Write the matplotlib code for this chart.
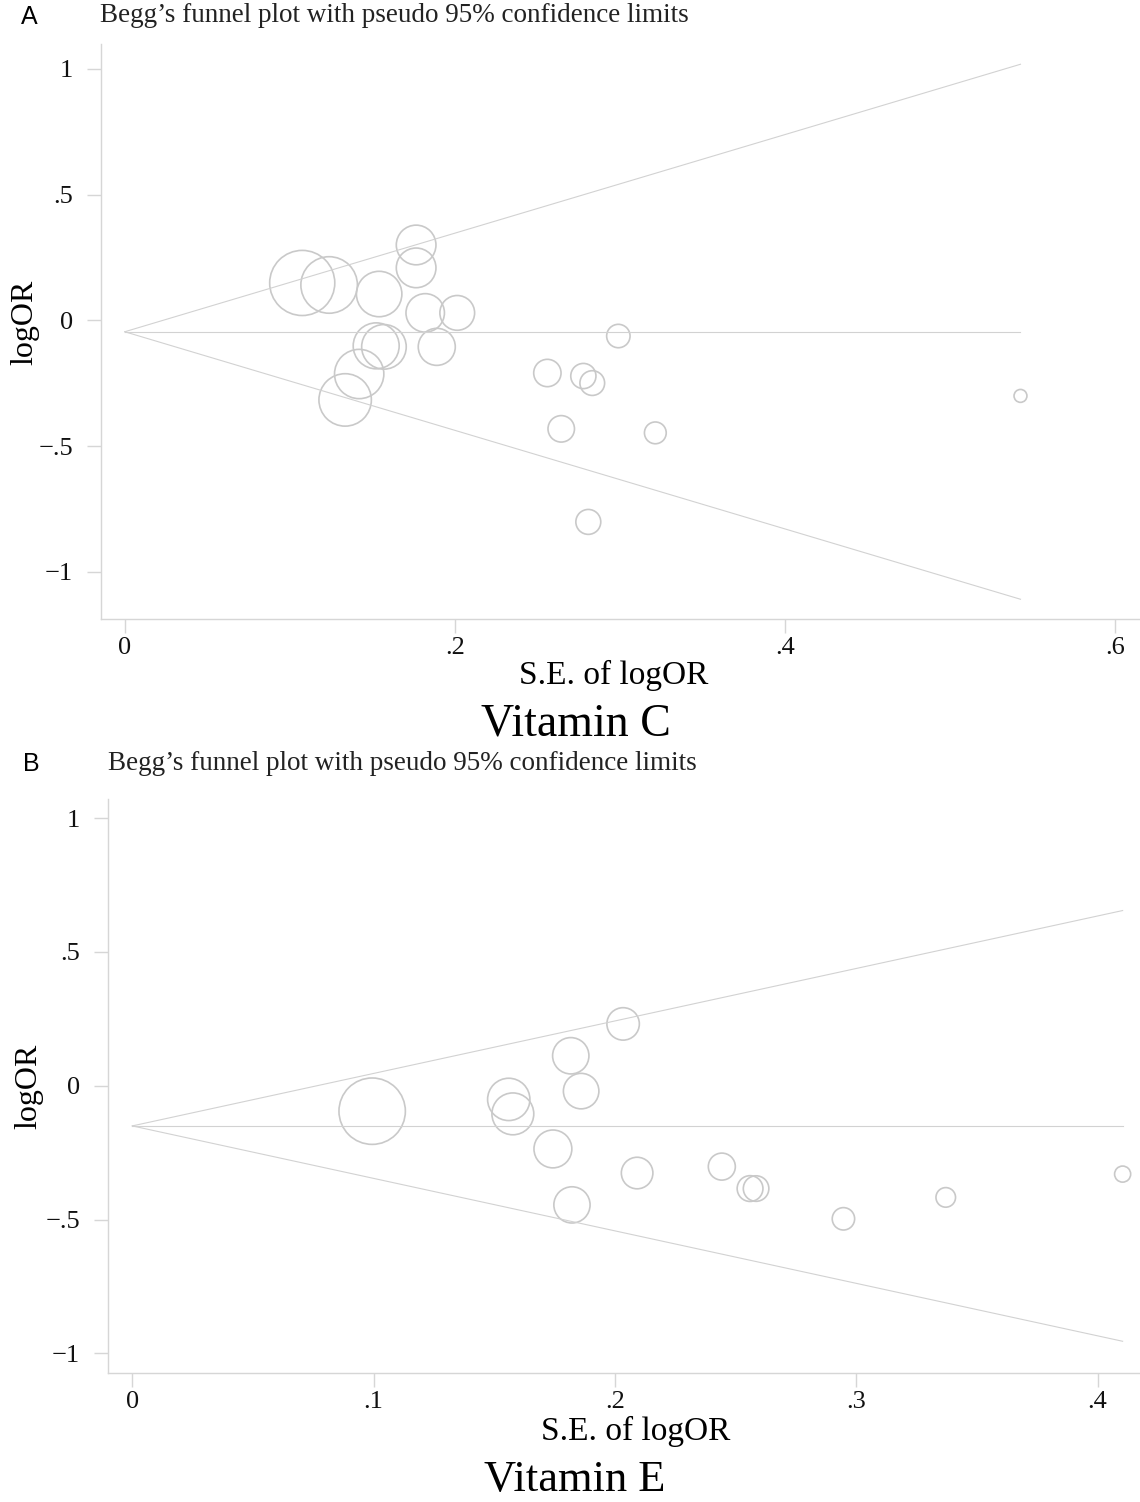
import matplotlib
matplotlib.use('Agg')
import matplotlib.pyplot as plt
import numpy as np

# Vitamin C study estimates
se_c = [0.1075, 0.1238, 0.1541, 0.1765, 0.1765, 0.1820, 0.2014, 0.1890, 0.1523, 0.1570,
        0.1420, 0.1335, 0.2990, 0.2560, 0.2778, 0.2832, 0.2644, 0.3214, 0.2808, 0.5426]
logor_c = [0.149, 0.141, 0.105, 0.300, 0.209, 0.030, 0.030, -0.105, -0.101, -0.105,
           -0.213, -0.316, -0.062, -0.209, -0.221, -0.249, -0.431, -0.447, -0.801, -0.300]
pooled_c = -0.045

# Vitamin E study estimates
se_e = [0.0994, 0.1560, 0.1577, 0.1817, 0.1860, 0.1743, 0.1822, 0.2034, 0.2092, 0.2443,
        0.2560, 0.2585, 0.2947, 0.3371, 0.4104]
logor_e = [-0.095, -0.051, -0.105, 0.112, -0.020, -0.236, -0.445, 0.231, -0.326, -0.302,
           -0.384, -0.384, -0.497, -0.417, -0.330]
pooled_e = -0.150

yticks = [-1, -0.5, 0, 0.5, 1]
ytick_labels = ['\u22121', '\u2212.5', '0', '.5', '1']
xticks_c = [0, 0.2, 0.4, 0.6]
xtick_labels_c = ['0', '.2', '.4', '.6']
xticks_e = [0, 0.1, 0.2, 0.3, 0.4]
xtick_labels_e = ['0', '.1', '.2', '.3', '.4']

plt.rcParams['font.family'] = ['Liberation Serif', 'DejaVu Serif']

W, H = 1140, 1502
fig = plt.figure(figsize=(W / 100, H / 100), dpi=100)

line_col = '#d2d2d2'
circ_col = '#c9c9c9'
tick_col = '#d6d6d6'


def funnel(ax, se, est, pooled, k, xticks, xlabels, xlim, ylim):
    se = np.asarray(se)
    est = np.asarray(est)
    smax = se.max()
    xs = np.array([0, smax])
    ax.plot(xs, pooled + 1.96 * xs, color=line_col, lw=0.8)
    ax.plot(xs, pooled - 1.96 * xs, color=line_col, lw=0.8)
    ax.plot(xs, [pooled, pooled], color=line_col, lw=0.8)
    # marker radius proportional to 1/se
    s = (1.44 * k / se) ** 2
    ax.scatter(se, est, s=s, facecolors='none', edgecolors=circ_col, linewidths=1.2)
    ax.set_xlim(*xlim)
    ax.set_ylim(*ylim)
    ax.set_xticks(xticks)
    ax.set_xticklabels(xlabels)
    ax.set_yticks(yticks)
    ax.set_yticklabels(ytick_labels)
    for sp in ['top', 'right']:
        ax.spines[sp].set_visible(False)
    for sp in ['left', 'bottom']:
        ax.spines[sp].set_color(tick_col)
        ax.spines[sp].set_linewidth(1.0)
    ax.tick_params(axis='both', colors=tick_col, labelcolor='#111111',
                   labelsize=19, length=10, width=1.0)
    ax.tick_params(axis='y', pad=10)
    ax.tick_params(axis='x', pad=3)
    ax.set_facecolor('white')


# panel A
axA = fig.add_axes([101 / W, 1 - 619 / H, (W - 101) / W, 575 / H])
funnel(axA, se_c, logor_c, pooled_c, 3.5, xticks_c, xtick_labels_c,
       (-0.0144, 0.615), (-1.187, 1.099))

# panel B
axB = fig.add_axes([107.7 / W, 1 - 1373.3 / H, (W - 107.7) / W, 574.3 / H])
funnel(axB, se_e, logor_e, pooled_e, 3.3, xticks_e, xtick_labels_e,
       (-0.0102, 0.4176), (-1.074, 1.071))


def ftxt(x, y, s, **kw):
    fig.text(x / W, 1 - y / H, s, **kw)


title = 'Begg\u2019s funnel plot with pseudo 95% confidence limits'
ftxt(21, 17, 'A', family='Liberation Sans', fontsize=18, va='center', ha='left')
ftxt(100, 15, title, fontsize=19.5, va='center', ha='left', color='#222222')
ftxt(25, 322, 'logOR', fontsize=23, rotation=90, va='center', ha='center')
ftxt(614, 675, 'S.E. of logOR', fontsize=24, va='center', ha='center')
ftxt(576, 724, 'Vitamin C', fontsize=33, va='center', ha='center')

ftxt(23, 764, 'B', family='Liberation Sans', fontsize=18, va='center', ha='left')
ftxt(108, 763, title, fontsize=19.5, va='center', ha='left', color='#222222')
ftxt(29, 1086, 'logOR', fontsize=23, rotation=90, va='center', ha='center')
ftxt(636, 1431, 'S.E. of logOR', fontsize=24, va='center', ha='center')
ftxt(575, 1480, 'Vitamin E', fontsize=32, va='center', ha='center')

fig.savefig('out.png', dpi=100, facecolor='white')
